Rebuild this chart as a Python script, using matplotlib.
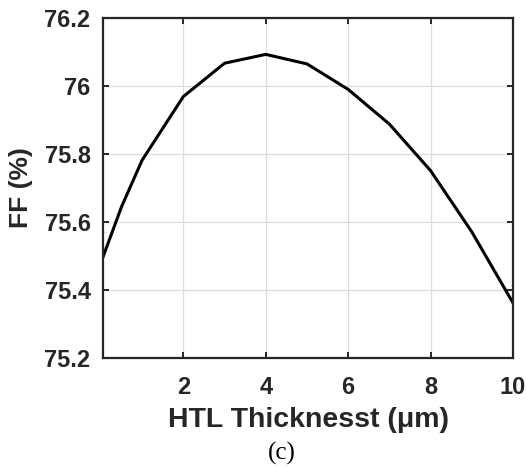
import matplotlib
matplotlib.use("Agg")
import matplotlib.pyplot as plt

thickness = [0.05, 0.5, 1, 2, 3, 4, 5, 6, 7, 8, 9, 10]
ff = [75.497, 75.645, 75.782, 75.969, 76.067, 76.093, 76.065, 75.990, 75.888, 75.751, 75.571, 75.362]
xticks = [2, 4, 6, 8, 10]
yticks = [75.2, 75.4, 75.6, 75.8, 76.0, 76.2]
ytick_labels = ["75.2", "75.4", "75.6", "75.8", "76", "76.2"]

fig = plt.figure(figsize=(5.26, 4.68), dpi=100)
ax = fig.add_axes([103/526, 1-358/468, 410/526, 340/468])
ax.plot(thickness, ff, color="black", lw=2.2)
ax.set_xlim(0.05, 10)
ax.set_ylim(75.2, 76.2)
ax.set_xticks(xticks)
ax.set_yticks(yticks)
ax.set_yticklabels(ytick_labels)
ax.grid(True, color="#dcdcdc", lw=0.9)
ax.set_axisbelow(True)
for s in ax.spines.values():
    s.set_linewidth(1.6)
    s.set_color("#262626")
ax.tick_params(direction="in", length=4, width=1.4, color="#262626",
               top=True, right=True, labelsize=17, labelcolor="#262626")
ax.tick_params(axis="x", pad=13)
ax.tick_params(axis="y", pad=9)
for lab in ax.get_xticklabels() + ax.get_yticklabels():
    lab.set_fontfamily("Liberation Sans")
    lab.set_fontweight("bold")
ax.set_xlabel("HTL Thicknesst (\u03bcm)", fontsize=20.5, fontweight="bold",
              family="Liberation Sans", color="#262626", labelpad=6)
ax.set_ylabel("FF (%)", fontsize=19, fontweight="bold",
              family="Liberation Sans", color="#262626", labelpad=8)
fig.text(282/526, 1-453/468, "(c)", fontsize=18, family="Liberation Serif",
         ha="center", va="center")
fig.savefig("out.png", dpi=100)
